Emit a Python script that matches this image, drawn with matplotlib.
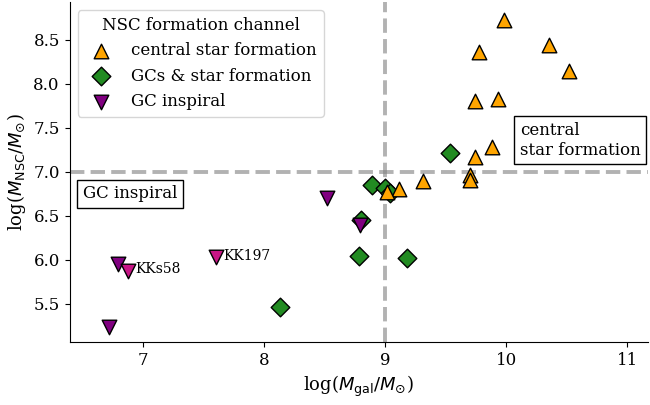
import matplotlib
matplotlib.use("Agg")
import matplotlib.pyplot as plt

plt.rcParams['font.family'] = ['DejaVu Serif']
plt.rcParams['font.size'] = 12

# central star formation
csf_x = [9.98, 10.35, 10.52, 9.77, 9.74, 9.93, 9.88, 9.74, 9.31, 9.70, 9.70, 9.11, 9.01]
csf_y = [8.73, 8.44, 8.15, 8.36, 7.81, 7.83, 7.28, 7.17, 6.90, 6.96, 6.91, 6.81, 6.77]
# GCs & star formation
gcsf_x = [9.53, 8.89, 9.00, 9.04, 8.80, 8.78, 9.18, 8.13]
gcsf_y = [7.22, 6.85, 6.82, 6.76, 6.45, 6.05, 6.02, 5.47]
# GC inspiral
gci_x = [8.52, 8.79, 6.79, 6.72]
gci_y = [6.70, 6.40, 5.95, 5.24]
# labelled GC inspiral galaxies
named_x = [6.87, 7.60]
named_y = [5.875, 6.03]
named_labels = ['KKs58', 'KK197']

fig = plt.figure(figsize=(6.5, 4.05), dpi=100)
ax = fig.add_axes([0.107, 0.156, 0.890, 0.839])

ax.axvline(9, color='gray', alpha=0.6, lw=2.8, ls='--', zorder=1)
ax.axhline(7, color='gray', alpha=0.6, lw=2.8, ls='--', zorder=1)

ax.scatter(csf_x, csf_y, marker='^', s=110, color='orange', edgecolor='black',
           lw=1, zorder=3, label='central star formation')
ax.scatter(gcsf_x, gcsf_y, marker='D', s=90, color='forestgreen', edgecolor='black',
           lw=1, zorder=2, label='GCs & star formation')
ax.scatter(gci_x, gci_y, marker='v', s=110, color='purple', edgecolor='black',
           lw=1, zorder=3, label='GC inspiral')
ax.scatter(named_x, named_y, marker='v', s=110, color='mediumvioletred',
           edgecolor='black', lw=1, zorder=3)
for xx, yy, lab in zip(named_x, named_y, named_labels):
    ax.text(xx + 0.06, yy + 0.02, lab, ha='left', va='center', fontsize=10)

ax.text(10.11, 7.36, 'central\nstar formation', ha='left', va='center',
        bbox=dict(facecolor='white', edgecolor='black'))
ax.text(6.5, 6.75, 'GC inspiral', ha='left', va='center',
        bbox=dict(facecolor='white', edgecolor='black'))

ax.set_xlim(6.39, 11.17)
ax.set_ylim(5.07, 8.93)
ax.set_xticks([7, 8, 9, 10, 11])
ax.set_yticks([5.5, 6.0, 6.5, 7.0, 7.5, 8.0, 8.5])
ax.spines['top'].set_visible(False)
ax.spines['right'].set_visible(False)
ax.set_xlabel(r'log($M_{\rm gal}/M_{\odot}$)', fontsize=13)
ax.set_ylabel(r'log($M_{\rm NSC}/M_{\odot}$)', fontsize=13)

ax.legend(title='NSC formation channel', loc='upper left')

fig.savefig('out.png', dpi=100)
